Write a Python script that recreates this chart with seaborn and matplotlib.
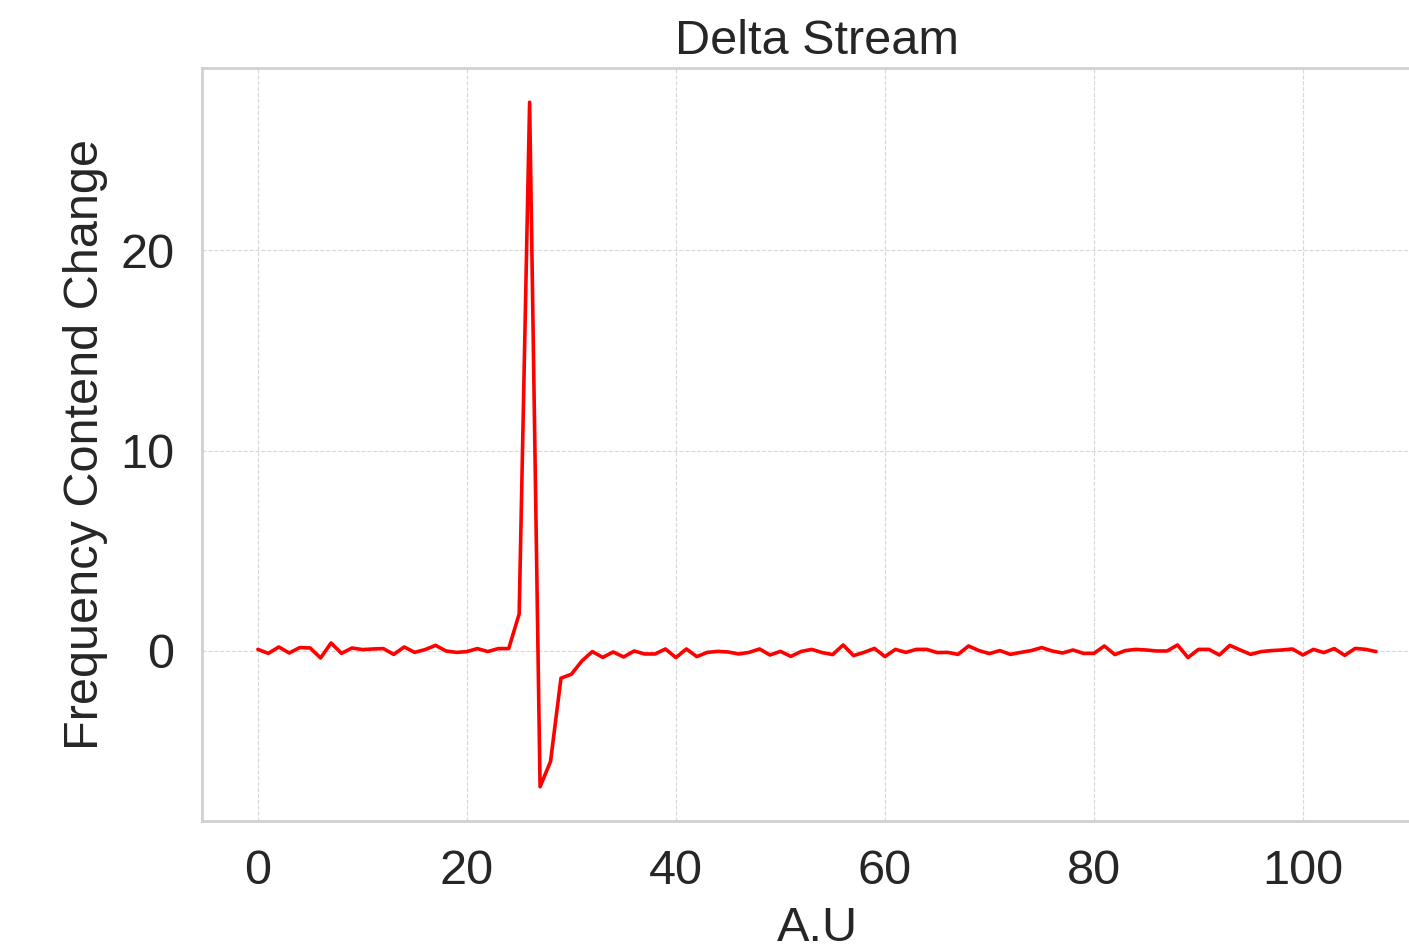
import numpy as np
import pandas as pd
import matplotlib
matplotlib.use("Agg")
import matplotlib.pyplot as plt
import seaborn as sns

# Sample index and the frequency-content change per sample
sample_index = list(range(108))
freq_change = [
    0.08, -0.12, 0.2, -0.1, 0.17, 0.15, -0.35, 0.4, -0.12, 0.15,
    0.07, 0.1, 0.12, -0.17, 0.2, -0.07, 0.07, 0.28, 0.0, -0.07,
    -0.03, 0.12, -0.03, 0.12, 0.12, 1.85, 27.4, -6.78, -5.52, -1.36,
    -1.16, -0.5, -0.03, -0.32, -0.05, -0.3, 0.0, -0.15, -0.15, 0.1,
    -0.33, 0.1, -0.28, -0.07, -0.02, -0.05, -0.15, -0.07, 0.1, -0.2,
    -0.02, -0.27, -0.02, 0.08, -0.08, -0.18, 0.3, -0.23, -0.07, 0.13,
    -0.28, 0.08, -0.07, 0.08, 0.08, -0.08, -0.07, -0.17, 0.25, 0.02,
    -0.13, 0.02, -0.17, -0.07, 0.02, 0.17, 0.0, -0.1, 0.05, -0.12,
    -0.12, 0.25, -0.18, 0.02, 0.08, 0.05, 0.0, 0.0, 0.3, -0.33,
    0.08, 0.08, -0.2, 0.28, 0.05, -0.17, -0.03, 0.02, 0.05, 0.1,
    -0.2, 0.08, -0.08, 0.12, -0.22, 0.13, 0.08, -0.03,
]
x_ticks = [0, 20, 40, 60, 80, 100]
y_ticks = [0, 10, 20]

df = pd.DataFrame({"A.U": sample_index, "change": freq_change})

sns.set_style("whitegrid", {
    "grid.linestyle": "--",
    "grid.color": "#d8d8d8",
    "axes.edgecolor": "#d0d0d0",
})
plt.rcParams["font.family"] = ["Liberation Sans", "DejaVu Sans"]
plt.rcParams["text.color"] = "#262626"
plt.rcParams["axes.labelcolor"] = "#262626"
plt.rcParams["xtick.color"] = "#262626"
plt.rcParams["ytick.color"] = "#262626"

fig = plt.figure(figsize=(14.09, 9.51), dpi=100)
ax = fig.add_axes([202 / 1409, 1 - 821 / 951, 1230 / 1409, (821 - 68) / 951])

sns.lineplot(data=df, x="A.U", y="change", color="red", linewidth=2.6, ax=ax)

ax.set_xticks(x_ticks)
ax.set_yticks(y_ticks)
ax.grid(True, linewidth=0.8)
for s in ax.spines.values():
    s.set_linewidth(2.0)

fs = 35
ax.set_title("Delta Stream", fontsize=fs, pad=10)
ax.set_xlabel("A.U", fontsize=fs, labelpad=9)
ax.set_ylabel("Frequency Contend Change", fontsize=fs, labelpad=9)
ax.tick_params(axis="x", labelsize=fs, pad=20, length=0)
ax.tick_params(axis="y", labelsize=fs, pad=20, length=0)

fig.savefig("out.png", dpi=100)
